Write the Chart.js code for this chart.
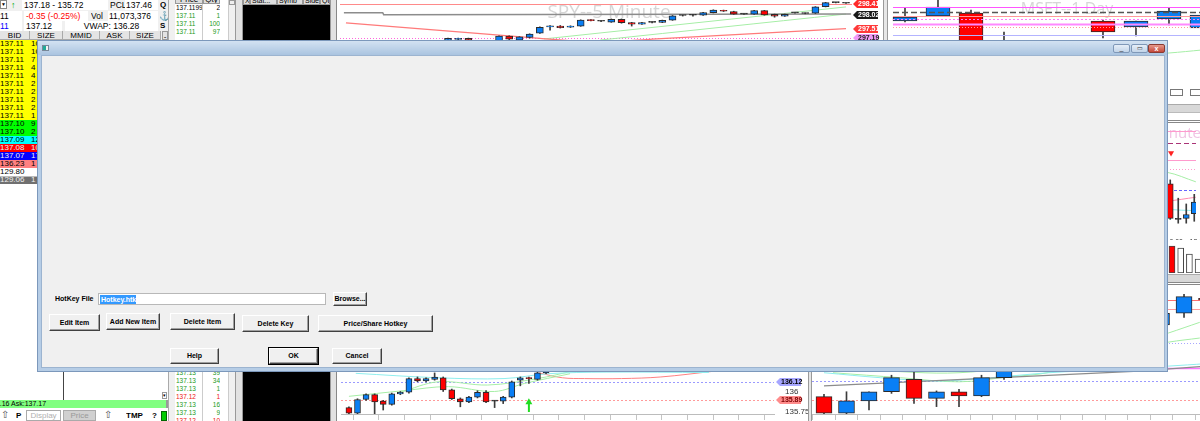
<!DOCTYPE html>
<html>
<head>
<meta charset="utf-8">
<title>HotKey</title>
<script src="https://cdn.jsdelivr.net/npm/chart.js@4.4.1/dist/chart.umd.min.js"></script>
<style>
  body { margin: 0; width: 1200px; height: 421px; overflow: hidden; position: relative; background: #fff;
         font-family: "Liberation Sans", Arial, sans-serif; font-size: 8px; color: #000; }
  .a { position: absolute; white-space: nowrap; overflow: hidden; box-sizing: border-box; }
  canvas { position: absolute; z-index: 1; }
  .btn { z-index: 12; background: #f0f0f0; border: 1px solid; border-color: #fff #404040 #404040 #fff;
         box-shadow: inset -1px -1px #a0a0a0; font-weight: bold; font-size: 7px; text-align: center; }
</style>
</head>
<body>
<script>
// ---- level 2 quote ----
const l2Price = ['137.11','137.11','137.11','137.11','137.11','137.11','137.11','137.11','137.11','137.11',
                 '137.10','137.10','137.09','137.08','137.07','136.23','129.80','129.06'];
const l2Size = ['10','10','7','4','4','2','2','2','2','1','9','2','12','10','17','1','','1'];
const l2Color = ['#ffff00','#ffff00','#ffff00','#ffff00','#ffff00','#ffff00','#ffff00','#ffff00','#ffff00','#ffff00',
                 '#00ff00','#00ff00','#00ffff','#ff0000','#0000ff','#ff8080','#ffffff','#707070'];

// ---- time & sales ----
const tsTopPrice = ['137.1199','137.11','137.11','137.11'];
const tsTopQty = ['2','1','100','97'];
const tsBotPrice = ['137.13','137.13','137.13','137.12','137.13','137.13','137.12'];
const tsBotQty = ['39','34','1','1','16','9','10'];

// ---- SPY 5 minute ----
const spyOpen  = [297.12,297.15,297.19,297.10,297.02,297.10,297.27,297.13,297.22,297.37,297.59,297.62,297.58,297.62,297.84,297.79,297.76,297.86,297.74,297.69,
                  297.75,297.75,297.83,297.99,298.00,298.00,298.09,298.17,298.13,298.04,298.04,298.16,298.03,297.97,298.08,298.06,298.07,298.30,298.44,298.42];
const spyClose = [297.19,297.19,297.13,297.02,297.08,297.27,297.16,297.24,297.34,297.58,297.63,297.56,297.62,297.83,297.81,297.79,297.86,297.74,297.69,297.74,
                  297.75,297.82,297.98,297.99,298.00,298.09,298.18,298.14,298.04,298.04,298.16,298.01,297.97,298.03,298.08,298.06,298.29,298.44,298.44,298.42];
const spyHigh  = [297.20,297.20,297.20,297.12,297.11,297.28,297.28,297.25,297.35,297.59,297.64,297.64,297.63,297.84,297.85,297.81,297.87,297.87,297.75,297.75,
                  297.77,297.83,297.99,298.00,298.03,298.10,298.19,298.18,298.14,298.05,298.17,298.17,298.04,298.04,298.09,298.08,298.30,298.45,298.45,298.43];
const spyLow   = [297.05,297.10,297.08,296.98,296.99,297.08,297.12,297.10,297.20,297.36,297.48,297.55,297.57,297.61,297.80,297.77,297.75,297.72,297.62,297.68,
                  297.73,297.74,297.82,297.97,297.97,297.99,298.08,298.13,298.03,298.03,298.03,298.00,297.93,297.96,298.07,298.05,298.06,298.29,298.43,298.41];
const spyGrayX = [-10.2, -6.4, -6.3, 39.5];
const spyGrayY = [298.09, 298.09, 298.02, 298.04];
const spyMaX = [-10, 9, 15, 20, 39];
const spyMaY = [297.73, 297.19, 297.05, 297.16, 297.53];
const spyG1X = [9.4, 39];
const spyG1Y = [297.17, 298.29];
const spyG2X = [14.9, 39];
const spyG2Y = [297.13, 298.04];
const spyLevels = [298.41, 297.20];
const spyTags = [298.41, 298.02, 297.51, 297.19];

// ---- MSFT 1 day ----
const dayOpen  = [138.95,139.20,139.35,137.00,137.50,136.90,138.95,138.65,139.05,138.60];
const dayClose = [139.15,139.65,136.90,137.60,136.90,137.50,138.40,138.95,139.45,139.25];
const dayHigh  = [139.60,140.00,139.50,138.40,137.90,137.90,139.00,138.95,139.60,139.40];
const dayLow   = [138.90,139.20,136.70,136.80,136.50,136.60,138.10,138.20,138.75,138.50];
const dayMaX = [5, 8, 9];
const dayMaY = [137.00, 137.35, 137.50];
const dayLevels = [139.65, 139.40, 139.20, 139.05, 138.80, 138.65, 138.25];

// ---- MSFT 1 minute (lower centre) ----
const cOpen  = [135.80,135.73,135.90,135.96,135.88,135.84,135.97,135.99,136.16,136.13,136.15,136.17,136.02,135.91,135.87,135.93,135.99,135.88,135.88,135.93,136.14,136.17,136.15,136.23];
const cClose = [135.73,135.90,135.96,135.87,135.84,135.97,135.99,136.16,136.13,136.16,136.18,136.02,135.91,135.87,135.93,135.99,135.87,135.88,135.93,136.12,136.17,136.16,136.23,136.31];
const cHigh  = [135.81,135.91,135.97,135.97,135.89,135.98,136.00,136.17,136.18,136.17,136.23,136.18,136.03,135.92,135.94,136.01,136.01,135.89,135.94,136.13,136.18,136.18,136.24,136.33];
const cLow   = [135.72,135.72,135.89,135.72,135.77,135.83,135.96,135.98,136.12,136.12,136.14,136.00,135.90,135.81,135.86,135.92,135.86,135.80,135.85,135.92,136.07,136.10,136.14,136.22];
const cTicks = [136, 135.75];
const cLevels = [136.12, 135.89];
const cCyanX = [0.8, 10.4, 18.1, 23.2, 30, 42];
const cCyanY = [136.225, 136.17, 136.16, 136.22, 136.24, 136.235];
const cG1X = [0, 6.4, 11.6, 17.0, 20.5, 25.8];
const cG1Y = [135.94, 136.01, 136.06, 136.00, 136.10, 136.22];
const cG2X = [6.0, 10.4, 16.2, 22.0, 26.0];
const cG2Y = [135.99, 136.12, 136.08, 136.16, 136.25];
const cRedX = [22.2, 24.9, 27.5, 31.8, 36.4, 42.5];
const cRedY = [136.23, 136.17, 136.16, 136.16, 136.18, 136.25];
const cArrowX = 21;
const cArrowY = [135.865, 135.745];

// ---- MSFT 5 minute (lower right) ----
const dOpen  = [135.93,135.73,135.88,135.99,136.14,135.91,135.99,135.94,136.16,136.30,136.42,136.38,136.55,136.70,136.64,136.80,136.94,137.12];
const dClose = [135.73,135.88,135.99,136.16,135.91,135.99,135.94,136.16,136.30,136.42,136.38,136.55,136.70,136.64,136.80,136.94,137.14,137.10];
const dHigh  = [135.96,135.99,135.99,136.19,136.23,136.00,136.02,136.19,136.32,136.46,136.50,136.60,136.74,136.78,136.86,136.96,137.17,137.14];
const dLow   = [135.72,135.72,135.77,135.97,135.85,135.81,135.81,135.93,136.14,136.25,136.33,136.36,136.50,136.60,136.62,136.75,136.89,137.08];
const dLevels = [137.10, 136.99, 136.58, 136.28, 136.12, 135.89];
const dGrayX = [0, 14, 17];
const dGrayY = [136.06, 136.24, 136.30];
const dCyanX = [0, 2.5, 5, 7.4, 10, 12.8, 15.3, 17];
const dCyanY = [136.22, 136.16, 136.12, 136.16, 136.22, 136.26, 136.30, 136.33];
const dG1X = [0.4, 3.4, 6, 8.2, 10.1, 12.5, 15.3, 16.7];
const dG1Y = [136.22, 136.16, 136.11, 136.17, 136.23, 136.45, 136.70, 136.83];
const dG2X = [2, 6, 10, 15.3, 16.7];
const dG2Y = [136.25, 136.22, 136.35, 136.59, 136.64];

// ---- MSFT intraday strip (right edge) ----
const eOpen  = [136.41, 136.04, 136.05, 136.10];
const eClose = [136.05, 136.04, 136.09, 136.22];
const eHigh  = [136.45, 136.26, 136.20, 136.30];
const eLow   = [136.04, 136.00, 136.00, 136.02];
const eTimes = ['10:00', '13:00'];
const eTickPos = [0.5, 3.5];
const eLevels = [136.96, 136.83, 136.66, 136.56, 136.35];
const eGreenX = [-8, -0.46, 3.2];
const eGreenY = [136.60, 136.53, 136.43];
const ePinkX = [-8, -0.46, 3.2];
const ePinkY = [136.20, 136.23, 136.27];
const eCyanX = [-8, -0.46, 3.2];
const eCyanY = [136.30, 136.15, 136.13];
const eArrow = [0.1, 136.73];
const fVol = [27000, 25000, 19000, 14000];

const BLUE = '#0a7ff5', RED = '#ff0000';
Chart.defaults.font.family = '"Liberation Sans", Arial, sans-serif';

function el(x, y, w, h, css, text) {
  const d = document.createElement('div');
  d.className = 'a';
  d.style.cssText = `left:${x}px;top:${y}px;width:${w}px;height:${h}px;line-height:${h}px;` + (css || '');
  if (text !== undefined) d.textContent = text;
  document.body.appendChild(d);
  return d;
}
function btn(x, y, w, h, text, css) {
  const d = el(x, y, w, h, css || '', text);
  d.classList.add('btn');
  d.style.lineHeight = (h - 2) + 'px';
  return d;
}

// ---------- left quote panel ----------
el(0, 0, 168, 40, 'background:#f0f0f0');
el(0, 0, 7, 9, 'background:#fff;border:1px solid #888;font-size:5px;text-align:center;line-height:7px', '▼');
el(11, 0, 8, 10, 'color:#0a0;font-size:9px;font-weight:bold', '↑');
el(22, 0, 86, 10, 'background:#fff;padding-left:2px;font-size:8.5px', '137.18 - 135.72');
el(110, 0, 15, 10, 'font-size:8.5px', 'PCL');
el(125, 0, 33, 10, 'background:#fff;padding-left:1px;font-size:8.5px', '137.46');
el(160, 0, 8, 10, 'font-weight:bold', 'Q');
el(0, 11, 22, 10, 'background:#fff;font-size:8.5px', '11');
el(24, 11, 64, 10, 'background:#fff;color:#f00;padding-left:2px;font-size:8.5px', '-0.35  (-0.25%)');
el(91, 11, 15, 10, 'font-size:8.5px', 'Vol');
el(108, 11, 50, 10, 'background:#fff;padding-left:1px;font-size:8.5px', '11,073,376');
el(159, 11, 9, 10, 'color:#777;font-size:9px', '⚓');
el(0, 21, 22, 10, 'background:#fff;color:#00f;font-size:8.5px', '11');
el(24, 21, 38, 10, 'background:#fff;padding-left:2px;font-size:8.5px', '137.12');
el(65, 21, 93, 10, 'background:#fff;text-align:center;font-size:8.5px', 'VWAP: 136.28');
el(160, 21, 8, 10, 'font-weight:bold', 'S');
[['BID', 0, 30], ['SIZE', 30, 33], ['MMID', 63, 37], ['ASK', 100, 30], ['SIZE', 130, 31]].forEach(h =>
  el(h[1], 31, h[2], 9, 'background:#e4e4e4;border-right:1px solid #aaa;border-bottom:1px solid #aaa;text-align:center', h[0]));
el(162, 31, 6, 9, 'background:#e4e4e4;border:1px solid #999;text-align:center', '-');
l2Price.forEach((p, i) => {
  const dark = ['#ff0000', '#0000ff', '#707070'].includes(l2Color[i]);
  const row = el(0, 40 + i * 8, 168, 8, `background:${l2Color[i]};color:${dark ? '#eee' : '#000'};line-height:8px`);
  el(0, 0, 30, 8, 'font-size:8px;line-height:8px', p).style.position = 'absolute';
  row.appendChild(row.ownerDocument.body.lastChild);
  const s = el(31, 0, 20, 8, 'line-height:8px', l2Size[i]);
  row.appendChild(s);
});
el(0, 176, 168, 1, 'background:#bbb');

// bottom of left panel
el(63, 372, 1, 28, 'background:#444');
el(162, 392, 5, 7, 'border:1px solid #999;font-size:5px;line-height:5px;text-align:center', '▾');
const ask = el(0, 400, 166, 8, 'background:#80ff80;line-height:8px;font-size:7px');
const askTxt = el(-24, 0, 120, 8, 'line-height:8px;font-size:7px', 'Bid:137.16 Ask:137.17');
ask.appendChild(askTxt);
el(166, 400, 2, 8, 'background:#999');
el(1, 409, 11, 12, 'font-size:10px;color:#555', '⇧');
el(16, 410, 8, 11, 'font-weight:bold;font-size:8px', 'P');
el(26, 410, 35, 11, 'background:#fff;border:1px solid #aaa;color:#b0b0b0;text-align:center;line-height:9px', 'Display');
el(63, 410, 33, 11, 'background:#d0d0d0;border:1px solid #aaa;color:#9a9a9a;text-align:center;line-height:9px', 'Price');
el(104, 409, 11, 12, 'font-size:10px;color:#555', '⇧');
el(126, 410, 20, 11, 'font-weight:bold;font-size:8px', 'TMP');
el(152, 410, 6, 11, 'font-weight:bold', '?');
el(161, 411, 6, 10, 'background:#0c0;border:1px solid #060');

// ---------- time & sales ----------
[[0, 40], [372, 49]].forEach(b => {
  el(168, b[0], 7, b[1], 'background:#f0f0f0;border-left:1px solid #aaa');
  el(175, b[0], 45, b[1], 'background:#fff');
  el(202, b[0], 1, b[1], 'background:#ccc');
  el(220, b[0], 8, b[1], 'background:#fff');
  el(228, b[0], 7, b[1], 'background:#f0f0f0;border-left:1px solid #ccc');
  el(235, b[0], 8, b[1], 'background:#e2e2e2;border-left:1px solid #999;border-right:1px solid #999');
  el(243, b[0], 87, b[1], 'background:#000');
  el(330, b[0], 7, b[1], 'background:#e2e2e2;border-left:1px solid #999;border-right:1px solid #888;z-index:2');
});
el(175, -5, 28, 9, 'background:#ddd;border:1px solid #999;text-align:center;line-height:7px', 'Price');
el(203, -5, 17, 9, 'background:#ddd;border:1px solid #999;text-align:center;line-height:7px', 'Qty');
el(229, 0, 6, 5, 'border:1px solid #999;background:#eee');
[['X', 243, 7], ['Stat...', 250, 27], ['Symb', 277, 26], ['Side', 303, 17], ['Qt', 320, 10]].forEach(h =>
  el(h[1], -4, h[2], 9, 'background:#ddd;border:1px solid #999;font-size:7px;line-height:7px;padding-left:1px', h[0]));
tsTopPrice.forEach((p, i) => {
  const c = i === 0 ? '#000' : '#1a9a1a';
  el(176, 4 + i * 8, 26, 8, `color:${c};font-size:6.5px;line-height:8px`, p);
  el(203, 4 + i * 8, 17, 8, `color:${c};font-size:6.5px;line-height:8px;text-align:right`, tsTopQty[i]);
});
tsBotPrice.forEach((p, i) => {
  const c = p === '137.12' ? '#ee1111' : '#1a9a1a';
  el(176, 369 + i * 8, 26, 8, `color:${c};font-size:6.5px;line-height:8px`, p);
  el(203, 369 + i * 8, 17, 8, `color:${c};font-size:6.5px;line-height:8px;text-align:right`, tsBotQty[i]);
});

// panel separators
el(883, 0, 5, 40, 'background:#e6e6e6;border-left:1px solid #999;border-right:1px solid #999;z-index:2');
el(808, 372, 4, 49, 'background:#e6e6e6;border-left:1px solid #999;border-right:1px solid #999;z-index:2');
// right strip furniture
el(1168, 80, 32, 43, 'background:#fff');
el(1170, 89, 13, 7, 'border:1px solid #777;background:#fff');
el(1190, 89, 12, 7, 'border:1px solid #777;background:#fff');
el(1168, 104, 32, 9, 'background:#d8d8d8;border-top:1px solid #aaa;border-bottom:1px solid #bbb');
el(1168, 120, 32, 3, 'border-top:1px solid #888;border-bottom:1px solid #888');
el(1168, 274, 32, 8, 'background:#d8d8d8;border-top:1px solid #aaa');
el(1168, 282, 32, 3, 'border-top:1px solid #888;border-bottom:1px solid #888');

// ---------- charts ----------
function mkCanvas(x, y, w, h) {
  const c = document.createElement('canvas');
  c.width = w; c.height = h;
  c.style.left = x + 'px'; c.style.top = y + 'px';
  document.body.appendChild(c);
  return c;
}

function drawTag(ctx, x, y, text, bg, fg) {
  ctx.fillStyle = bg;
  ctx.beginPath();
  ctx.moveTo(x, y); ctx.lineTo(x + 4, y - 4); ctx.lineTo(x + 25, y - 4);
  ctx.lineTo(x + 25, y + 4); ctx.lineTo(x + 4, y + 4); ctx.closePath();
  ctx.fill();
  ctx.fillStyle = fg;
  ctx.font = 'bold 7px "Liberation Sans"';
  ctx.textAlign = 'left'; ctx.textBaseline = 'middle';
  ctx.fillText(text, x + 5, y + 0.5);
}

function overlay(c) {
  function levels(chart) {
    const { ctx, chartArea: a } = chart, y = chart.scales.y;
    (c.levels || []).forEach((v, i) => {
      const st = c.levelStyle[i];
      const py = Math.round(y.getPixelForValue(v)) + 0.5;
      ctx.strokeStyle = st[0]; ctx.lineWidth = st[1]; ctx.setLineDash(st[2]);
      ctx.beginPath(); ctx.moveTo(a.left + (c.levelFrom || 0), py);
      ctx.lineTo(c.levelTo || a.right, py); ctx.stroke();
    });
    ctx.setLineDash([]);
  }
  return {
    id: 'overlay',
    beforeDatasetsDraw(chart) {
      const ctx = chart.ctx;
      ctx.save();
      if (c.title) {
        ctx.font = c.titleFont; ctx.fillStyle = c.titleColor;
        ctx.textAlign = c.titleAlign || 'center'; ctx.textBaseline = 'alphabetic';
        ctx.fillText(c.title, c.titleX, c.titleY);
      }
      if (!c.levelsTop) levels(chart);
      ctx.restore();
    },
    afterDatasetsDraw(chart) {
      const ctx = chart.ctx, y = chart.scales.y;
      ctx.save();
      if (c.levelsTop) levels(chart);
      (c.tags || []).forEach((v, i) =>
        drawTag(ctx, c.tagX, Math.round(y.getPixelForValue(v)), v.toFixed(2), c.tagStyle[i][0], c.tagStyle[i][1]));
      ctx.restore();
    }
  };
}

function lineSet(l) {
  return { type: 'line', data: l.x.map((x, i) => ({ x, y: l.y[i] })), borderColor: l.color,
           borderWidth: l.width || 1, borderDash: l.dash || [], pointRadius: 0,
           tension: l.tension === undefined ? 0.35 : l.tension, fill: false, order: 3 };
}

function candleChart(canvas, c) {
  const xs = c.open.map((_, i) => i);
  const datasets = [
    { type: 'bar', data: xs.map(i => ({ x: i, y: [c.open[i], c.close[i]] })),
      backgroundColor: xs.map(i => c.close[i] > c.open[i] ? BLUE : c.close[i] < c.open[i] ? RED : '#333'),
      borderColor: '#2b2b2b', borderWidth: 1, borderSkipped: false, barThickness: c.bar,
      minBarLength: 1, grouped: false, order: 1 },
    { type: 'bar', data: xs.map(i => ({ x: i, y: [c.low[i], c.high[i]] })),
      backgroundColor: '#3c3c3c', barThickness: 1, grouped: false, order: 2 }
  ];
  (c.lines || []).forEach(l => datasets.push(lineSet(l)));
  (c.extra || []).forEach(d => datasets.push(d));
  return new Chart(canvas, {
    type: 'bar',
    data: { datasets },
    options: {
      responsive: false, animation: false, devicePixelRatio: 1, events: [],
      layout: { padding: 0 },
      plugins: { legend: { display: false }, tooltip: { enabled: false } },
      scales: {
        x: Object.assign({ type: 'linear', min: c.xmin, max: c.xmax, offset: false, display: false, grid: { offset: false } }, c.xScale || {}),
        y: Object.assign({ type: 'linear', min: c.ymin, max: c.ymax, display: false }, c.yScale || {})
      }
    },
    plugins: [overlay(c)]
  });
}

function timeAxis(pos) {
  return {
    display: true,
    grid: { display: true, drawOnChartArea: false, drawTicks: true, tickLength: 6, color: '#c4c4c4', offset: false },
    border: { display: true, color: '#bcbcbc' },
    ticks: { display: false },
    afterBuildTicks: s => { s.ticks = pos.map(v => ({ value: v })); },
    afterFit: s => { s.height = 7; s.paddingLeft = 0; s.paddingRight = 0; }
  };
}

// SPY 5 minute
candleChart(mkCanvas(337, 0, 548, 200), {
  open: spyOpen, close: spyClose, high: spyHigh, low: spyLow, bar: 7,
  xmin: -10.877, xmax: 42.82, ymin: 291.5325, ymax: 298.5325,
  lines: [
    { x: spyGrayX, y: spyGrayY, color: '#8c8c8c', width: 1.5, tension: 0 },
    { x: spyMaX, y: spyMaY, color: '#ff7a7a', width: 1.3, tension: 0.2 },
    { x: spyG1X, y: spyG1Y, color: '#a6eea6' },
    { x: spyG2X, y: spyG2Y, color: '#a6eea6' }
  ],
  levels: spyLevels, levelTo: 515, levelFrom: 3,
  levelStyle: [['#ff8a8a', 1, []], ['#ff66dd', 1, [1, 2]]],
  tags: spyTags, tagX: 516,
  tagStyle: [['#ff2a2a', '#fff'], ['#1a1a1a', '#fff'], ['#ff3a3a', '#fff'], ['#f19af5', '#222']],
  title: 'SPY--5 Minute', titleX: 272, titleY: 18, titleFont: '19px "Open Sans"', titleColor: '#d6d6d6'
});

// MSFT 1 day
candleChart(mkCanvas(888, 0, 312, 80), {
  open: dayOpen, close: dayClose, high: dayHigh, low: dayLow, bar: 24,
  xmin: -0.515, xmax: 8.94, ymin: 136.0, ymax: 140.0,
  lines: [{ x: dayMaX, y: dayMaY, color: '#a6eea6' }],
  levels: dayLevels, levelFrom: 5, levelsTop: true,
  levelStyle: [['#ff55ff', 1, []], ['#555', 1.5, [6, 3]], ['#ff9a9a', 1, []], ['#ff77ff', 1, [2, 2]],
               ['#ff88ff', 2, []], ['#ff9a9a', 1, [1, 2]], ['#b4b4ff', 1, []]],
  title: 'MSFT--1 Day', titleX: 179, titleY: 14, titleFont: '16px "Open Sans"', titleColor: '#d6d6d6'
});

// MSFT 1 minute, lower centre
const cTickPos = [];
for (let v = 0.5; v < 49; v += 3) cTickPos.push(v);
candleChart(mkCanvas(337, 250, 471, 171), {
  open: cOpen, close: cClose, high: cHigh, low: cLow, bar: 6,
  xmin: -0.925, xmax: 49.6, ymin: 135.7207, ymax: 137.705,
  xScale: timeAxis(cTickPos),
  yScale: {
    display: true, position: 'right', grid: { display: false }, border: { display: false },
    ticks: { font: { size: 8 }, color: '#333', padding: 3, callback: v => String(v) },
    afterBuildTicks: s => { s.ticks = cTicks.map(v => ({ value: v })); },
    afterFit: s => { s.width = 34; s.paddingTop = 0; s.paddingBottom = 0; }
  },
  lines: [
    { x: cCyanX, y: cCyanY, color: '#8eeeee' },
    { x: cG1X, y: cG1Y, color: '#a6eea6' },
    { x: cG2X, y: cG2Y, color: '#a6eea6' },
    { x: cRedX, y: cRedY, color: '#ff8080' }
  ],
  extra: [
    { type: 'line', data: [{ x: cArrowX, y: cArrowY[0] }, { x: cArrowX, y: cArrowY[1] }], borderColor: '#22dd22',
      borderWidth: 2, pointRadius: 0, order: 0 },
    { type: 'line', data: [{ x: cArrowX, y: cArrowY[0] }], showLine: false, pointStyle: 'triangle', pointRadius: 4,
      pointBackgroundColor: '#22dd22', pointBorderWidth: 0, order: 0 }
  ],
  levels: cLevels, levelStyle: [['#9a9aff', 1, [2, 2]], ['#ff9a9a', 1, [2, 2]]],
  tags: cLevels, tagX: 439, tagStyle: [['#a6a6ff', '#000'], ['#ff8c8c', '#7a0000']]
});

// MSFT 5 minute, lower right
const dTickPos = [];
for (let v = -0.5; v < 17; v += 1) dTickPos.push(v);
candleChart(mkCanvas(812, 285, 388, 136), {
  open: dOpen, close: dClose, high: dHigh, low: dLow, bar: 16,
  xmin: -0.533, xmax: 16.71, ymin: 135.7207, ymax: 137.2816,
  xScale: timeAxis(dTickPos),
  lines: [
    { x: dGrayX, y: dGrayY, color: '#8c8c8c', width: 1.2, tension: 0 },
    { x: dCyanX, y: dCyanY, color: '#8eeeee' },
    { x: dG1X, y: dG1Y, color: '#a6eea6' },
    { x: dG2X, y: dG2Y, color: '#a6eea6' }
  ],
  levels: dLevels,
  levelStyle: [['#ff7070', 1, []], ['#ff9a9a', 1, []], ['#a8a8ff', 1, [1, 2]], ['#ff77ff', 1.5, []],
               ['#9a9aff', 1, [2, 2]], ['#ff9a9a', 1, [2, 2]]]
});

// MSFT intraday, right strip
candleChart(mkCanvas(1100, 123, 100, 117), {
  open: eOpen, close: eClose, high: eHigh, low: eLow, bar: 6,
  xmin: -8.276, xmax: 3.218, ymin: 135.95, ymax: 137.0,
  xScale: {
    display: true, grid: { display: false, offset: false }, border: { display: false },
    ticks: { font: { size: 7 }, color: '#333', padding: 2, autoSkip: false, maxRotation: 0,
             callback: v => eTimes[eTickPos.indexOf(v)] },
    afterBuildTicks: s => { s.ticks = eTickPos.map(v => ({ value: v })); },
    afterFit: s => { s.height = 12; s.paddingLeft = 0; s.paddingRight = 0; }
  },
  lines: [
    { x: eGreenX, y: eGreenY, color: '#a6eea6' },
    { x: ePinkX, y: ePinkY, color: '#ff8ab0' },
    { x: eCyanX, y: eCyanY, color: '#8eeeee' }
  ],
  extra: [{ type: 'line', data: [{ x: eArrow[0], y: eArrow[1] }], showLine: false, pointStyle: 'triangle',
            rotation: 180, pointRadius: 3.5, pointBackgroundColor: '#ff2222', pointBorderWidth: 0, order: 0 }],
  levels: eLevels,
  levelStyle: [['#ff9acd', 1, []], ['#aa3377', 1, [5, 3]], ['#ff9acd', 1, []], ['#ff9acd', 1, [1, 2]], ['#6666ff', 1, [3, 2]]],
  title: 'MSFT--1 Minute', titleX: 101, titleY: 15, titleAlign: 'right',
  titleFont: '15px "Open Sans"', titleColor: '#f0c4e4'
});

// volume under the intraday strip
new Chart(mkCanvas(1100, 241, 100, 32), {
  type: 'bar',
  data: { datasets: [{
    data: fVol.map((v, i) => ({ x: i, y: v })),
    backgroundColor: fVol.map((v, i) => eClose[i] < eOpen[i] ? RED : '#fff'),
    borderColor: '#444', borderWidth: 1, borderSkipped: false, barThickness: 6
  }] },
  options: {
    responsive: false, animation: false, devicePixelRatio: 1, events: [],
    plugins: { legend: { display: false }, tooltip: { enabled: false } },
    scales: {
      x: { type: 'linear', min: -8.276, max: 3.218, offset: false, display: false },
      y: { min: 0, max: 32000, display: false }
    }
  }
});

// ---------- dialog ----------
el(37, 40, 1131, 332, 'z-index:10;background:#b6cde6;border:1px solid #7c98bb');
el(38, 41, 1129, 14, 'z-index:10;background:linear-gradient(#d3e2f2,#aac4e0)');
el(41, 55, 1124, 313, 'z-index:11;background:#f0f0f0;border:1px solid #9cb4d0');
el(42, 45, 7, 6, 'z-index:11;background:linear-gradient(90deg,#2a9 50%,#f4f4f4 50%);border:1px solid #789');
el(1113, 44, 17, 9, 'z-index:11;background:linear-gradient(#e6eef8,#c2d4e8);border:1px solid #7f98b8;border-radius:2px;font-size:7px;line-height:6px;text-align:center;color:#333', '_');
el(1131, 44, 17, 9, 'z-index:11;background:linear-gradient(#e6eef8,#c2d4e8);border:1px solid #7f98b8;border-radius:2px;font-size:6px;line-height:7px;text-align:center;color:#333', '▭');
el(1148, 44, 17, 9, 'z-index:11;background:linear-gradient(#e79a8c,#c4483a);border:1px solid #8a3b33;border-radius:2px;font-size:7px;line-height:7px;text-align:center;color:#fff;font-weight:bold', 'x');

el(55, 294, 42, 10, 'z-index:12;font-weight:bold;font-size:7px', 'HotKey File');
el(98, 293, 228, 12, 'z-index:12;background:#fff;border:1px solid #b8b8b8');
el(100, 295, 36, 9, 'z-index:13;background:#3399ff;color:#fff;font-weight:bold;font-size:7px;padding-left:1px', 'Hotkey.htk');
btn(333, 292, 34, 14, 'Browse...');
btn(49, 314, 51, 17, 'Edit Item');
btn(106, 313, 54, 17, 'Add New Item');
btn(170, 313, 65, 17, 'Delete Item');
btn(242, 315, 67, 17, 'Delete Key');
btn(318, 315, 115, 17, 'Price/Share Hotkey');
btn(170, 348, 49, 16, 'Help');
btn(269, 348, 49, 16, 'OK', 'outline:1px solid #000');
btn(332, 348, 50, 16, 'Cancel');
</script>
</body>
</html>
